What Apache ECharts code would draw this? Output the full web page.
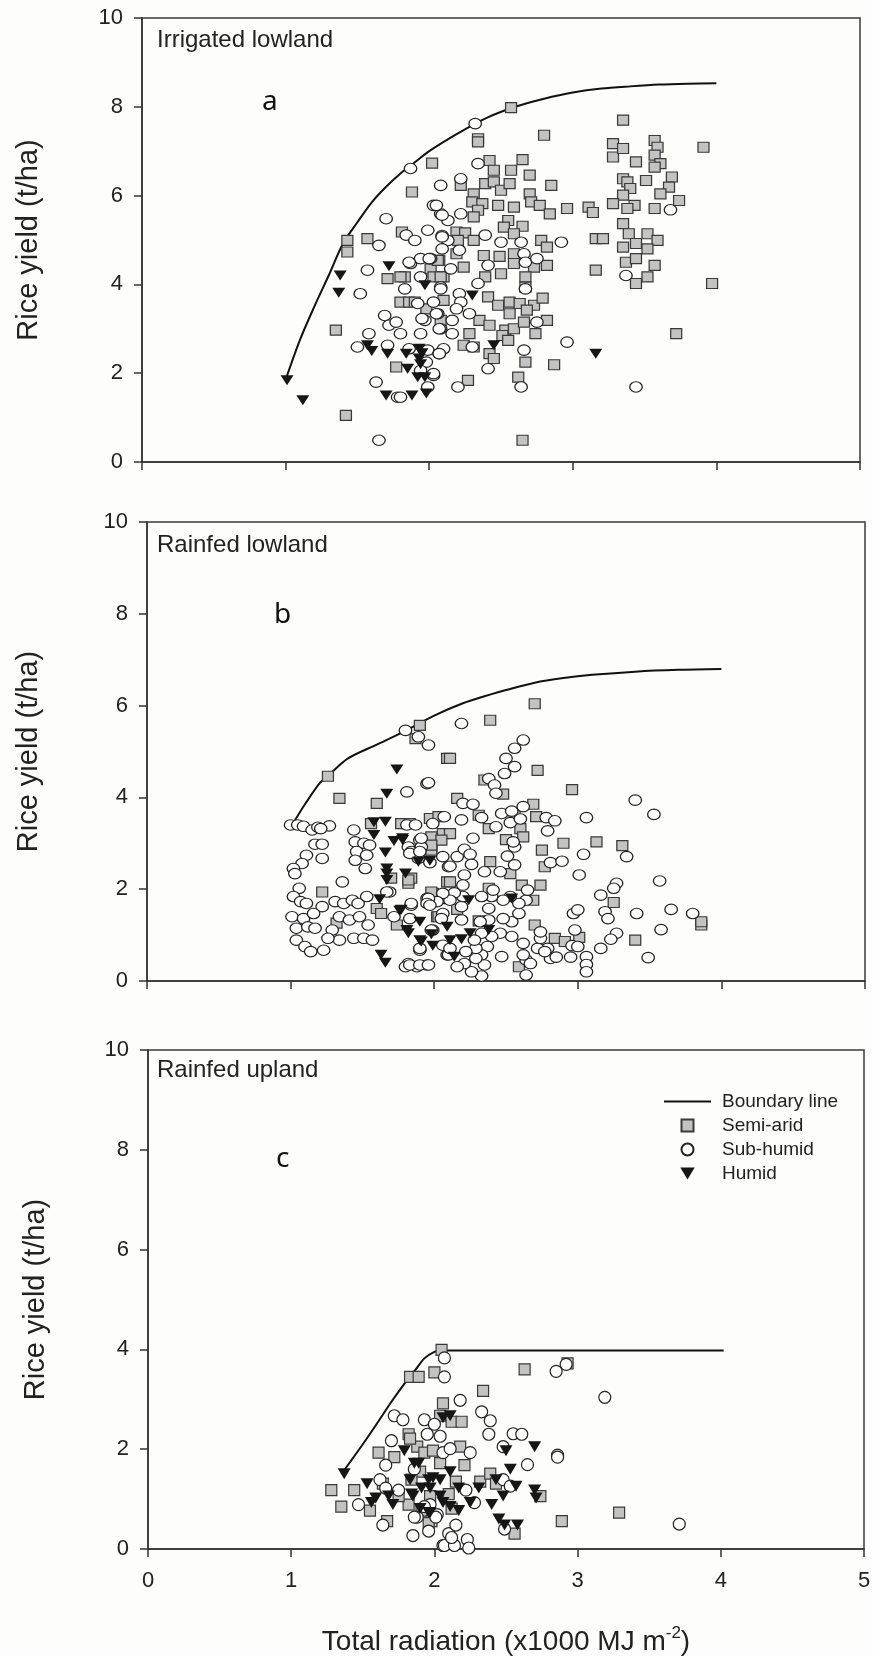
<!DOCTYPE html>
<html>
<head>
<meta charset="utf-8">
<script src="https://cdn.jsdelivr.net/npm/echarts@6.0.0/dist/echarts.min.js"></script>
<style>
  html, body { margin: 0; padding: 0; background: #fdfdfb; }
  #chart { width: 873px; height: 1656px; }
</style>
</head>
<body>
<div id="chart"></div>
<script>
// ---- data: [radiation (x1000 MJ m-2), yield (t/ha)] ----
var xTicks = [0, 1, 2, 3, 4, 5];
var yTicks = [0, 2, 4, 6, 8, 10];
var panelNames = ['Irrigated lowland', 'Rainfed lowland', 'Rainfed upland'];
var panelLetters = ['a', 'b', 'c'];
var seriesNames = ['Boundary line', 'Semi-arid', 'Sub-humid', 'Humid'];

// panel a - irrigated lowland
var aBoundary = [[1.0,1.85],[1.1,2.75],[1.2,3.5],[1.3,4.2],[1.4,4.92],[1.5,5.4],[1.6,5.85],[1.7,6.2],[1.8,6.5],[1.9,6.75],[2.0,7.0],[2.2,7.4],[2.4,7.75],[2.6,8.0],[2.8,8.18],[3.0,8.32],[3.2,8.41],[3.4,8.46],[3.6,8.5],[3.8,8.52],[4.0,8.53]];
var aSemiArid = [[1.43,4.99],[1.43,4.73],[1.57,5.03],[1.35,2.97],[1.42,1.05],[1.88,6.08],[2.02,6.73],[1.81,5.18],[1.71,4.13],[1.83,4.17],[2.01,4.35],[2.07,4.54],[1.80,3.60],[1.86,3.60],[1.98,3.45],[2.10,3.64],[1.77,2.14],[2.03,4.17],[2.10,4.17],[2.08,3.19],
  [2.57,7.98],[2.34,7.28],[2.34,7.21],[2.80,7.36],[3.35,7.70],[3.91,7.09],[3.28,7.17],[3.28,6.87],[3.35,7.06],[3.57,7.24],[3.59,7.09],[3.57,6.91],[3.61,6.72],[3.57,6.64],[3.44,6.76],[3.69,6.42],[3.51,6.34],[3.35,6.38],[3.38,6.31],[3.67,6.19],[3.40,6.16],[3.61,6.04],[3.35,6.01],[3.74,5.89],[3.28,5.82],[3.43,5.78],[3.38,5.71],[3.57,5.71],[3.11,5.74],[3.14,5.62],[2.96,5.71],[3.35,5.37],[3.39,5.14],[3.44,4.92],[3.52,5.14],[3.59,4.99],[3.35,4.84],[3.52,4.80],[3.37,4.50],[3.44,4.58],[3.57,4.43],[3.52,4.17],[3.44,4.02],[3.16,5.03],[3.21,5.03],[3.16,4.32],[3.97,4.02],[3.72,2.89],
  [2.42,6.79],[2.45,6.57],[2.65,6.81],[2.57,6.57],[2.70,6.46],[2.85,6.23],[2.22,6.23],[2.31,6.04],[2.39,6.27],[2.45,6.31],[2.50,6.12],[2.56,6.27],[2.30,5.86],[2.37,5.82],[2.48,5.78],[2.59,5.74],[2.70,6.04],[2.71,5.86],[2.77,5.78],[2.84,5.59],[2.34,5.67],[2.31,5.52],[2.55,5.44],[2.52,5.29],[2.65,5.31],[2.59,5.14],[2.19,5.18],[2.25,5.16],[2.31,4.99],[2.20,4.99],[2.19,4.69],[2.38,4.65],[2.49,4.63],[2.59,4.69],[2.78,4.99],[2.82,4.84],[2.73,4.39],[2.82,4.43],[2.08,4.17],[2.24,4.39],[2.39,4.17],[2.50,4.24],[2.59,4.47],[2.67,4.17],[2.67,3.94],[1.80,4.17],[1.90,3.60],[2.41,3.72],[2.48,3.53],[2.56,3.60],[2.56,3.34],[2.63,3.57],[2.73,3.53],[2.79,3.69],[2.68,3.42],[2.82,3.19],[2.35,3.19],[2.42,3.08],[2.53,2.97],[2.59,3.00],[2.66,3.15],[2.74,2.89],[2.51,2.85],[2.55,2.74],[2.28,2.89],[2.24,2.63],[2.31,2.59],[2.42,2.44],[2.45,2.33],[2.67,2.25],[2.87,2.19],[2.62,1.91],[2.27,1.84],[2.65,0.49],[2.06,4.54]];
var aSubHumid = [[1.87,6.61],[1.70,5.48],[1.65,4.88],[1.57,4.32],[1.52,3.79],[1.84,5.11],[1.90,4.99],[1.99,5.22],[2.03,5.78],[2.08,5.59],[2.08,6.23],[1.87,4.47],[1.94,4.58],[2.01,4.58],[1.83,3.90],[1.92,3.57],[1.97,3.19],[2.03,3.60],[2.06,3.34],[1.69,3.30],[1.72,3.08],[1.77,3.15],[1.80,2.89],[1.71,2.63],[1.58,2.89],[1.50,2.59],[1.86,2.55],[1.94,2.89],[1.99,2.52],[1.98,2.25],[1.94,2.06],[2.03,1.95],[2.07,2.44],[1.63,1.80],[1.78,1.46],[1.99,1.69],[1.65,0.49],[2.10,2.55],[2.08,3.00],[2.08,3.94],[2.13,4.99],[2.09,5.10],[2.13,5.44],
  [2.32,7.62],[2.34,6.72],[2.22,6.38],[2.22,5.59],[2.05,5.78],[2.09,5.56],[2.09,5.07],[2.09,4.80],[2.21,4.77],[2.39,5.11],[2.50,4.95],[2.64,4.95],[2.92,4.95],[2.00,4.58],[1.86,4.50],[2.15,4.35],[2.41,4.43],[2.66,4.69],[2.67,4.50],[2.75,4.58],[1.94,4.17],[2.08,3.90],[2.21,3.79],[2.34,4.02],[2.67,3.90],[2.22,3.60],[2.19,3.45],[2.28,3.34],[2.05,3.34],[1.95,3.23],[2.16,3.19],[2.07,3.00],[2.16,2.89],[2.75,3.15],[2.30,2.59],[2.07,2.44],[2.66,2.52],[2.96,2.70],[2.41,2.10],[2.03,1.99],[2.20,1.69],[2.64,1.69],[3.44,1.69],[3.68,5.68],[3.37,4.20],[1.80,1.46]];
var aHumid = [[1.01,1.84],[1.12,1.39],[1.38,4.2],[1.37,3.81],[1.72,4.41],[1.57,2.63],[1.71,2.44],[1.84,2.44],[1.93,2.55],[1.93,2.33],[1.94,2.2],[1.70,1.5],[1.88,1.5],[1.98,1.54],[1.92,1.91],[1.97,1.91],[1.97,3.98],[2.30,3.75],[2.45,2.63],[3.16,2.44],[1.60,2.5],[1.85,2.1],[1.95,2.45]];

// panel b - rainfed lowland
var bBoundary = [[1.03,3.5],[1.1,3.85],[1.2,4.3],[1.26,4.47],[1.4,4.85],[1.6,5.15],[1.8,5.45],[2.0,5.78],[2.2,6.05],[2.4,6.25],[2.5,6.34],[2.7,6.5],[2.9,6.6],[3.1,6.67],[3.4,6.74],[3.7,6.78],[4.0,6.8]];
var bSemiArid = [[1.26,4.46],[1.34,3.98],[1.60,3.87],[1.90,5.57],[1.87,5.28],[2.09,4.85],[1.56,3.43],[1.77,3.43],[1.83,3.43],[1.97,3.54],[1.99,3.11],[1.98,2.89],[2.06,3.21],[1.70,2.24],[1.82,2.13],[1.84,2.24],[1.22,1.94],[1.32,1.26],[1.60,1.58],[1.63,1.47],[1.74,1.22],[1.99,1.91],[2.02,1.40],[2.09,2.16],
  [2.70,6.04],[2.39,5.68],[2.11,4.85],[2.72,4.59],[2.96,4.17],[2.35,4.38],[2.48,4.07],[2.16,3.98],[2.69,3.85],[2.03,3.58],[2.31,3.61],[2.56,3.61],[2.71,3.58],[2.38,3.32],[2.60,3.32],[2.62,3.14],[2.50,3.08],[2.11,3.21],[1.98,3.14],[2.05,3.07],[1.98,2.85],[2.90,3.00],[3.13,3.03],[3.31,2.95],[2.75,2.85],[2.77,2.49],[2.39,2.60],[2.53,2.34],[1.82,2.20],[2.11,2.16],[2.74,2.09],[2.61,2.09],[2.69,1.76],[3.25,1.71],[2.38,2.02],[1.98,1.94],[2.16,1.56],[2.03,1.40],[2.70,1.22],[2.84,0.93],[2.91,0.86],[3.01,0.95],[3.40,0.89],[2.31,1.31],[2.59,0.31],[3.86,1.22],[3.86,1.29],[1.98,2.96]];
var bSubHumid = [[1.80,5.46],[1.00,3.40],[1.05,3.40],[1.09,3.37],[1.15,3.29],[1.19,3.35],[1.27,3.38],[1.17,2.98],[1.22,2.98],[1.11,2.74],[1.22,2.67],[1.08,2.56],[1.02,2.45],[1.03,2.34],[1.44,3.29],[1.45,3.03],[1.51,3.00],[1.55,2.96],[1.46,2.82],[1.53,2.74],[1.45,2.63],[1.52,2.45],[1.36,2.16],[1.06,2.02],[1.02,1.84],[1.07,1.73],[1.11,1.69],[1.22,1.62],[1.01,1.40],[1.09,1.36],[1.16,1.47],[1.04,1.15],[1.12,1.18],[1.17,1.15],[1.04,0.89],[1.10,0.75],[1.14,0.64],[1.23,0.67],[1.31,1.73],[1.37,1.69],[1.43,1.76],[1.47,1.69],[1.53,1.84],[1.34,1.40],[1.41,1.33],[1.48,1.40],[1.54,1.22],[1.34,0.89],[1.44,0.93],[1.51,0.93],[1.57,0.89],[1.69,1.94],[1.82,2.92],[1.81,4.12],[1.82,0.38],[1.72,1.40],[1.29,1.11],[1.26,0.93],
  [1.21,3.32],[1.81,3.40],[1.99,3.43],[1.95,4.30],[1.89,5.32],[1.96,5.14],[1.67,1.94],[1.95,1.80],[1.84,1.65],[1.90,0.67],[1.80,0.31],[1.88,0.31],[1.95,0.35],[2.09,0.57],[2.06,1.47],[1.99,1.11],[2.10,2.49],[2.06,2.71],[1.89,2.67],[1.84,2.82],[2.07,1.80],
  [2.19,5.61],[2.62,5.25],[2.56,5.07],[2.50,4.85],[2.56,4.67],[2.49,4.52],[2.38,4.41],[2.42,4.27],[2.43,4.09],[1.96,4.32],[3.40,3.94],[3.53,3.63],[3.06,3.56],[2.20,3.87],[2.27,3.85],[2.07,3.58],[2.19,3.51],[2.33,3.56],[2.47,3.65],[2.54,3.70],[2.62,3.80],[2.53,3.45],[2.60,3.53],[2.43,3.36],[2.78,3.56],[2.84,3.49],[2.79,3.27],[1.87,3.40],[1.90,3.07],[1.91,2.92],[1.97,2.58],[2.11,2.50],[2.16,2.71],[2.21,2.87],[2.27,3.11],[2.25,2.76],[2.26,2.54],[2.21,2.31],[2.20,2.09],[2.35,2.38],[2.46,2.38],[2.51,2.72],[2.56,2.92],[2.56,2.53],[2.55,3.03],[3.04,2.76],[2.81,2.58],[2.89,2.61],[3.01,2.31],[3.34,2.71],[3.27,2.13],[3.25,2.02],[3.16,1.87],[3.19,1.51],[3.21,1.36],[3.41,1.47],[3.57,2.18],[3.65,1.56],[3.80,1.47],[3.58,1.12],[3.49,0.51],[3.27,1.04],[3.23,0.91],[3.16,0.71],[2.97,1.47],[3.00,1.55],[2.98,1.11],[2.96,0.77],[3.06,0.53],[3.06,0.36],[3.06,0.20],[3.00,0.75],[2.95,0.52],[2.81,0.49],[2.79,0.71],[2.72,0.71],[2.74,0.93],[2.64,0.46],[2.64,0.13],[2.67,0.38],[2.62,0.57],[2.62,0.82],[2.54,0.97],[2.54,1.29],[2.59,1.47],[2.64,1.76],[2.65,1.98],[2.59,1.69],[2.53,1.84],[2.48,1.76],[2.48,1.36],[2.46,1.04],[2.47,0.53],[2.40,0.97],[2.38,1.58],[2.38,1.33],[2.40,1.84],[2.33,1.84],[2.32,1.29],[2.33,1.04],[2.37,0.75],[2.33,0.57],[2.35,0.35],[2.33,0.11],[2.26,0.20],[2.29,0.49],[2.29,0.71],[2.28,0.89],[2.22,0.64],[2.21,0.38],[2.16,0.31],[2.10,0.57],[2.06,0.78],[2.19,1.33],[2.19,1.62],[2.20,1.84],[2.14,1.92],[2.11,1.76],[2.06,1.91],[2.02,1.73],[1.96,1.80],[1.95,1.69],[1.84,1.69],[1.83,1.36],[1.90,0.71],[1.83,0.35],[1.90,0.35],[1.96,0.35],[2.05,1.36],[1.98,1.11],[1.97,1.65],[1.83,2.78],[1.90,2.82],[1.91,3.11],[2.11,0.71],[2.41,1.98],[2.74,1.07],[2.77,0.64],[2.85,0.52]];
var bHumid = [[1.74,4.61],[1.67,4.08],[1.58,3.46],[1.66,3.47],[1.58,3.18],[1.72,3.05],[1.78,3.07],[1.66,2.80],[1.67,2.45],[1.67,2.34],[1.80,2.34],[1.67,2.20],[1.62,1.78],[1.76,1.53],[1.81,1.11],[1.82,1.04],[1.63,0.57],[1.66,0.40],[1.89,2.60],[1.97,2.62],[1.77,1.55],[1.90,1.29],[1.91,0.86],[1.98,1.02],[1.90,0.89],[1.99,0.77],[2.09,1.18],[2.11,0.89],[2.19,0.91],[2.25,1.04],[2.38,1.11],[2.14,0.53],[2.24,1.76],[2.54,1.80],[1.78,3.11]];

// panel c - rainfed upland
var cBoundary = [[1.35,1.5],[1.5,2.1],[1.6,2.52],[1.7,2.95],[1.8,3.35],[1.87,3.6],[1.93,3.82],[2.0,3.95],[2.05,3.98],[2.5,3.98],[3.0,3.98],[3.5,3.98],[4.02,3.98]];
var cSemiArid = [[1.28,1.18],[1.35,0.85],[1.44,1.18],[1.61,1.93],[1.72,1.84],[1.55,0.77],[1.67,0.56],[1.83,3.45],[1.89,3.45],[2.05,3.99],[2.00,3.54],[2.06,2.92],[2.04,2.67],[1.82,2.30],[1.88,2.05],[1.93,1.93],[1.99,1.97],[1.90,1.55],[1.82,0.89],[1.91,0.77],[1.98,0.56],[1.97,1.06],[2.04,1.72],[1.64,1.31],[1.75,1.06],[1.84,1.39],
  [2.63,3.60],[2.93,3.72],[2.34,3.17],[2.12,2.55],[2.19,2.55],[2.18,2.05],[2.21,1.68],[2.32,1.35],[2.39,1.51],[2.43,1.31],[2.10,1.10],[2.12,0.81],[1.96,0.52],[2.74,1.06],[2.89,0.56],[3.29,0.73],[2.56,0.31],[2.15,1.35],[1.83,2.21]];
var cSubHumid = [[1.47,0.89],[1.64,0.48],[1.85,0.27],[1.96,0.36],[2.06,0.07],[1.62,1.39],[1.66,1.22],[1.72,2.67],[1.78,2.59],[1.70,2.17],[1.93,2.59],[2.00,2.50],[1.95,2.30],[2.04,2.26],[2.07,3.83],[2.07,3.45],[1.66,1.68],[1.75,1.18],[1.88,0.64],[1.97,0.89],[2.02,0.69],[2.06,1.93],[2.10,0.31],
  [2.92,3.70],[2.85,3.56],[3.19,3.04],[2.18,2.98],[2.33,2.75],[2.39,2.57],[2.38,2.30],[2.55,2.31],[2.61,2.30],[2.48,2.05],[2.86,1.88],[2.86,1.84],[2.65,1.69],[2.25,1.93],[2.11,2.01],[2.48,1.39],[2.53,1.26],[2.22,1.18],[2.28,0.93],[1.86,0.64],[2.01,0.64],[2.15,0.48],[2.07,0.07],[2.14,0.07],[2.23,0.19],[2.24,0.02],[2.12,0.23],[2.49,0.40],[3.71,0.50],[1.93,0.85],[1.86,1.60]];
var cHumid = [[1.37,1.51],[1.53,1.31],[1.56,0.93],[1.68,1.06],[1.71,0.89],[1.79,1.97],[1.86,1.72],[1.83,1.39],[1.84,1.10],[1.96,1.39],[1.99,1.43],[2.04,1.06],[2.06,0.93],[1.91,1.22],[1.97,0.73],[1.59,1.02],[2.06,2.63],[2.11,2.67],[1.89,1.72],[2.04,1.39],[2.11,1.55],[2.17,1.22],[1.85,1.06],[1.97,1.22],[2.17,0.77],[2.25,0.93],[2.31,1.22],[2.40,0.89],[2.43,1.39],[2.48,1.06],[2.50,1.97],[2.53,1.60],[2.57,1.26],[2.70,2.05],[2.70,1.18],[2.71,1.02],[2.45,0.60],[2.49,0.48],[2.58,0.48],[1.96,0.73],[1.90,0.81],[2.11,0.85]];

var panels = [
  {boundary: aBoundary, semi: aSemiArid, sub: aSubHumid, humid: aHumid},
  {boundary: bBoundary, semi: bSemiArid, sub: bSubHumid, humid: bHumid},
  {boundary: cBoundary, semi: cSemiArid, sub: cSubHumid, humid: cHumid}
];

var FONT = 'Liberation Sans, Arial, sans-serif';
var SQUARE = 'path://M0,0L10,0L10,10L0,10Z';
var ELLIPSE = 'path://M0,5A5,5,0,1,1,10,5A5,5,0,1,1,0,5Z';
var TRI_DOWN = 'path://M0,0L12,0L6,10Z';

var grids = [
  {left: 142, top: 18, width: 718, height: 444},
  {left: 147, top: 522, width: 718, height: 459},
  {left: 148, top: 1050, width: 716, height: 499}
];
var yNameGap = [99, 104, 98];
var symbolSizes = [
  {sq: [11, 10], ci: [12.5, 10.5], tr: [13, 10]},
  {sq: [11, 10], ci: [12.5, 10.5], tr: [13, 10]},
  {sq: [11, 11], ci: [12, 12], tr: [13, 11]}
];

var myChart = echarts.init(document.getElementById('chart'));

var xAxes = [], yAxes = [], series = [], graphics = [];
grids.forEach(function (g, i) {
  g.show = true;
  g.borderColor = '#3a3a3a';
  g.borderWidth = 1.5;
  g.backgroundColor = 'transparent';
  g.outerBoundsMode = 'none';

  var last = (i === grids.length - 1);
  var xa = {
    type: 'value', gridIndex: i,
    min: xTicks[0], max: xTicks[xTicks.length - 1], interval: 1,
    axisLine: {show: true, onZero: false, lineStyle: {color: '#333', width: 1.5}},
    axisTick: {show: true, length: 8, lineStyle: {color: '#333', width: 1.5}},
    axisLabel: {show: last, margin: 21, fontSize: 22, color: '#222', fontFamily: FONT},
    splitLine: {show: false}
  };
  if (last) {
    xa.name = 'Total radiation (x1000 MJ m{sup|-2})';
    xa.nameLocation = 'middle';
    xa.nameGap = 76;
    xa.nameMoveOverlap = false;
    xa.nameTextStyle = {
      fontSize: 28, color: '#222', fontFamily: FONT,
      rich: {sup: {fontSize: 17, color: '#222', fontFamily: FONT, verticalAlign: 'top', lineHeight: 34}}
    };
  }
  xAxes.push(xa);

  yAxes.push({
    type: 'value', gridIndex: i,
    min: yTicks[0], max: yTicks[yTicks.length - 1], interval: 2,
    axisLine: {show: true, onZero: false, lineStyle: {color: '#333', width: 1.5}},
    axisTick: {show: true, length: 8, lineStyle: {color: '#333', width: 1.5}},
    axisLabel: {margin: 19, fontSize: 22, color: '#222', fontFamily: FONT},
    splitLine: {show: false},
    name: 'Rice yield (t/ha)',
    nameLocation: 'middle',
    nameRotate: 90,
    nameGap: yNameGap[i],
    nameMoveOverlap: false,
    nameTextStyle: {fontSize: 29, color: '#222', fontFamily: FONT}
  });

  var p = panels[i], s = symbolSizes[i];
  series.push({
    name: seriesNames[0], type: 'line', xAxisIndex: i, yAxisIndex: i,
    data: p.boundary, smooth: 0.3, symbol: 'none', showSymbol: false,
    lineStyle: {color: '#111', width: 2}, itemStyle: {color: '#111'}, z: 1, silent: true
  });
  series.push({
    name: seriesNames[1], type: 'scatter', xAxisIndex: i, yAxisIndex: i,
    data: p.semi, symbol: 'rect', symbolSize: s.sq,
    itemStyle: {color: '#c3c3c3', borderColor: '#3a3a3a', borderWidth: 1.2, opacity: 1}, z: 2
  });
  series.push({
    name: seriesNames[2], type: 'scatter', xAxisIndex: i, yAxisIndex: i,
    data: p.sub, symbol: ELLIPSE, symbolSize: s.ci,
    itemStyle: {color: '#ffffff', borderColor: '#222', borderWidth: 1.2, opacity: 1}, z: 3
  });
  series.push({
    name: seriesNames[3], type: 'scatter', xAxisIndex: i, yAxisIndex: i,
    data: p.humid, symbol: TRI_DOWN, symbolSize: s.tr,
    itemStyle: {color: '#161616', opacity: 1}, z: 4
  });
});

// panel captions
var nameTops = [28, 533, 1058];
var letterPos = [[262, 88], [274, 601], [276, 1145]];
grids.forEach(function (g, i) {
  graphics.push({
    type: 'text', left: 157, top: nameTops[i],
    style: {text: panelNames[i], font: '24px ' + FONT, fill: '#222'}
  });
  graphics.push({
    type: 'text', left: letterPos[i][0], top: letterPos[i][1],
    style: {text: panelLetters[i], font: '28px "Noto Sans", "Open Sans", sans-serif', fill: '#111'}
  });
});

var option = {
  backgroundColor: '#fdfdfb',
  animation: false,
  grid: grids,
  xAxis: xAxes,
  yAxis: yAxes,
  legend: {
    orient: 'vertical', left: 658, top: 1087,
    itemWidth: 47, itemHeight: 12, itemGap: 5,
    selectedMode: false,
    data: [
      {name: seriesNames[0], itemStyle: {color: 'rgba(0,0,0,0)', borderWidth: 0, opacity: 0}},
      {name: seriesNames[1], icon: SQUARE},
      {name: seriesNames[2]},
      {name: seriesNames[3]}
    ],
    textStyle: {fontSize: 19, color: '#222', fontFamily: FONT, padding: [0, 0, 0, 6]}
  },
  graphic: graphics,
  series: series
};
myChart.setOption(option, true);
window.onresize = function () {
  setTimeout(function () { myChart.resize(); }, 200);
};
</script>
</body>
</html>
